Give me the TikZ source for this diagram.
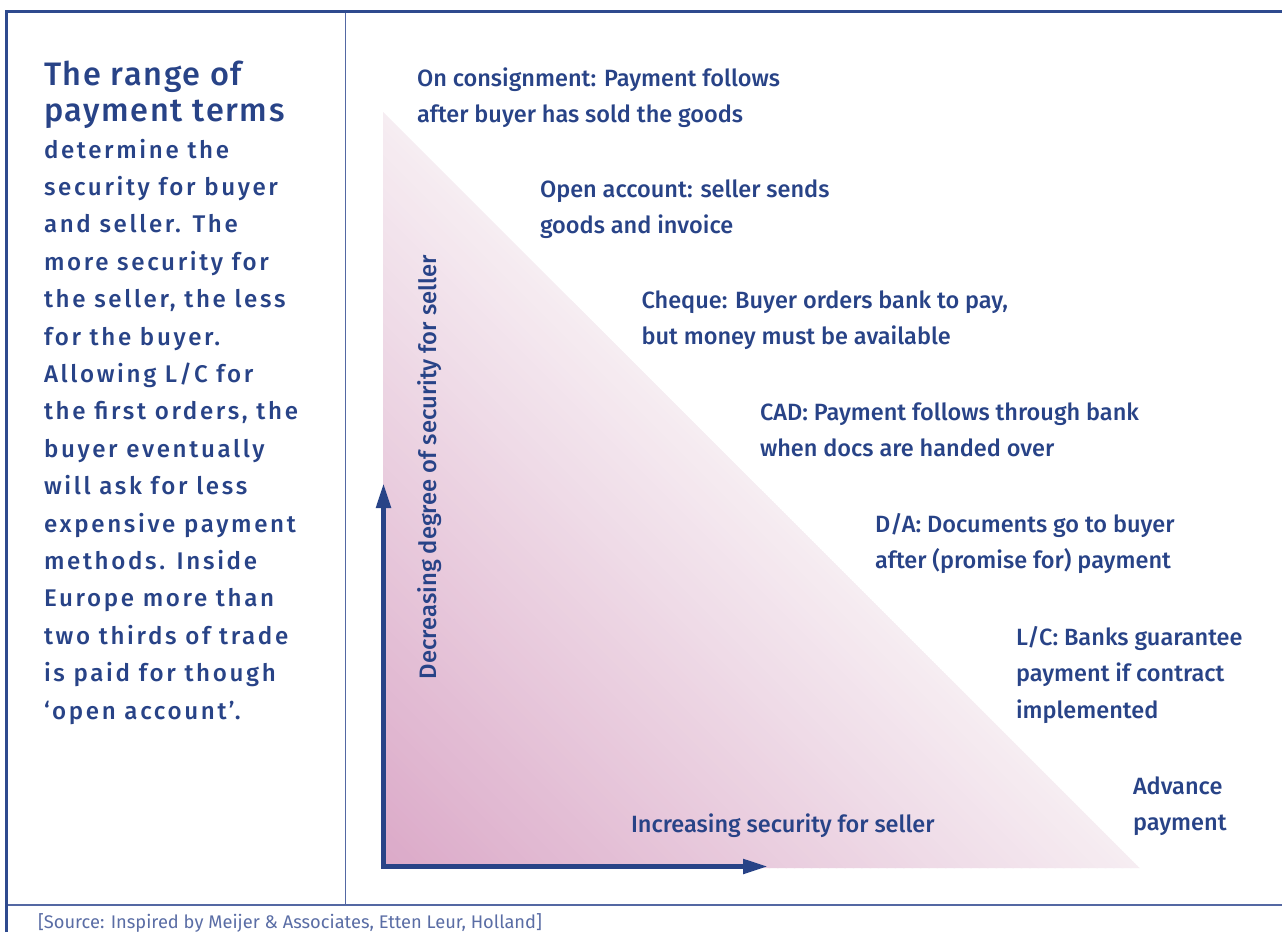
\documentclass[tikz,border=0pt]{standalone}
\usepackage{fontspec}
\setmainfont{Fira Sans}
\newfontfamily\medfont{Fira Sans Medium}
\newfontfamily\bodyfont[LetterSpace=11]{Fira Sans Medium}
\newfontfamily\headfont[LetterSpace=5]{Fira Sans Medium}
\usetikzlibrary{arrows.meta}
\definecolor{ink}{HTML}{284387}
\definecolor{frame}{HTML}{2E4A8E}
\definecolor{thinframe}{HTML}{5468A3}
\definecolor{srcink}{HTML}{5A6DA5}
\definecolor{pinkdark}{HTML}{DBA9C8}
\definecolor{pinklight}{HTML}{F6EDF2}
\newlength\mylen
\newcommand\textblock[5]{% name, x, first baseline, spacing, lines
  \foreach \t [count=\k from 0] in {#5} {\node[txt] (#1\k) at (#2, #3+\k*#4) {\t};}}
\begin{document}
% --- font sizes fitted to measured widths
\settowidth\mylen{\medfont\fontsize{10}{12}\selectfont On consignment: Payment follows}%
\pgfmathsetmacro\rsz{10*363/\mylen}%
\settowidth\mylen{\medfont\fontsize{10}{12}\selectfont Decreasing degree of security for seller}%
\pgfmathsetmacro\vsz{10*424/\mylen}%
\settowidth\mylen{\bodyfont\fontsize{10}{12}\selectfont security for buyer}%
\pgfmathsetmacro\lsz{10*234/\mylen}%
\settowidth\mylen{\headfont\fontsize{10}{12}\selectfont The range of}%
\pgfmathsetmacro\hsz{10*198/\mylen}%
\settowidth\mylen{\fontsize{10}{12}\selectfont [Source: Inspired by Meijer \& Associates, Etten Leur, Holland]}%
\pgfmathsetmacro\ssz{10*504/\mylen}%
\def\rfont{\medfont\fontsize{\rsz}{\rsz}\selectfont}%
\def\vfont{\medfont\fontsize{\vsz}{\vsz}\selectfont}%
\def\lfont{\bodyfont\fontsize{\lsz}{\lsz}\selectfont}%
\def\hfont{\headfont\fontsize{\hsz}{\hsz}\selectfont}%
\begin{tikzpicture}[x=1pt,y=-1pt,
  txt/.style={anchor=base west, inner sep=0pt, outer sep=0pt, text=ink, font=\rfont},
  lefttxt/.style={txt, font=\lfont},
  headtxt/.style={txt, font=\hfont},
  axisline/.style={draw=ink, line width=5pt, line join=miter, >={Triangle[length=25pt, width=14pt]}}]
\useasboundingbox (0,0) rectangle (1282,932);
\fill[white] (0,0) rectangle (1282,932);
% --- gradient triangle
\coordinate (T) at (383,112);
\coordinate (O) at (383,868);
\coordinate (R) at (1140,868);
\begin{scope}
  \clip (T) -- (O) -- (R) -- cycle;
  \foreach \i in {0,...,89} {
    \pgfmathsetmacro\ca{-485.6+\i*8.4}
    \pgfmathsetmacro\cb{\ca+9.6}
    \pgfmathsetmacro\pp{(\i+0.5)*1.1111}
    \colorlet{bandc}{pinklight!\pp!pinkdark}
    \fill[bandc] (\ca+100,100) -- (\ca+900,900) -- (\cb+900,900) -- (\cb+100,100) -- cycle;
  }
\end{scope}
% --- frame
\coordinate (TL) at (6,11);
\coordinate (TR) at (1282,11);
\coordinate (BL) at (6,932);
\coordinate (ML) at (6,905);
\coordinate (MR) at (1282,905);
\coordinate (DT) at (345.7,11);
\coordinate (DB) at (345.7,905);
\draw[thinframe, line width=1.8pt] (ML) -- (MR);
\draw[thinframe, line width=1.5pt] (DT) -- (DB);
\draw[frame, line width=3pt] (BL) -- (TL) -- (TR);
% --- axes
\coordinate (A0) at (383.5,866.5);
\coordinate (AY) at (383.5,483);
\coordinate (AX) at (768,866.5);
\draw[axisline, <->] (AY) -- (A0) -- (AX);
% --- left column text
\node[headtxt] (h0) at (44,85) {The range of};
\node[headtxt] (h1) at (44,121) {payment terms};
\foreach \t [count=\k from 0] in {determine the, security for buyer, {and seller. The}, more security for, {the seller, the less}, {for the buyer.}, Allowing L/C for, {the first orders, the}, buyer eventually, will ask for less, expensive payment, {methods. Inside}, Europe more than, two thirds of trade, is paid for though, {‘open account’.}}
  {\node[lefttxt] (b\k) at (44, 158+\k*37.4) {\t};}
% --- payment terms
\textblock{c}{417}{86}{36.7}{{On consignment: Payment follows}, after buyer has sold the goods}
\textblock{o}{540}{197}{36.7}{{Open account: seller sends}, goods and invoice}
\textblock{q}{641.5}{308}{36.7}{{Cheque: Buyer orders bank to pay,}, but money must be available}
\textblock{d}{760}{420}{36.7}{{CAD: Payment follows through bank}, when docs are handed over}
\textblock{a}{875}{532}{36.7}{{D/A: Documents go to buyer}, after (promise for) payment}
\textblock{l}{1016}{645}{36.7}{{L/C: Banks guarantee}, payment if contract, implemented}
\textblock{v}{1133}{794}{36.7}{Advance, payment}
\node[txt] (xlab) at (631,832) {Increasing security for seller};
\node[txt, font=\vfont, rotate=90] (ylab) at (436,679) {Decreasing degree of security for seller};
% --- source
\node[txt, text=srcink, font={\fontsize{\ssz}{\ssz}\selectfont}] (src) at (38,928) {[Source: Inspired by Meijer \& Associates, Etten Leur, Holland]};
\end{tikzpicture}
\end{document}
